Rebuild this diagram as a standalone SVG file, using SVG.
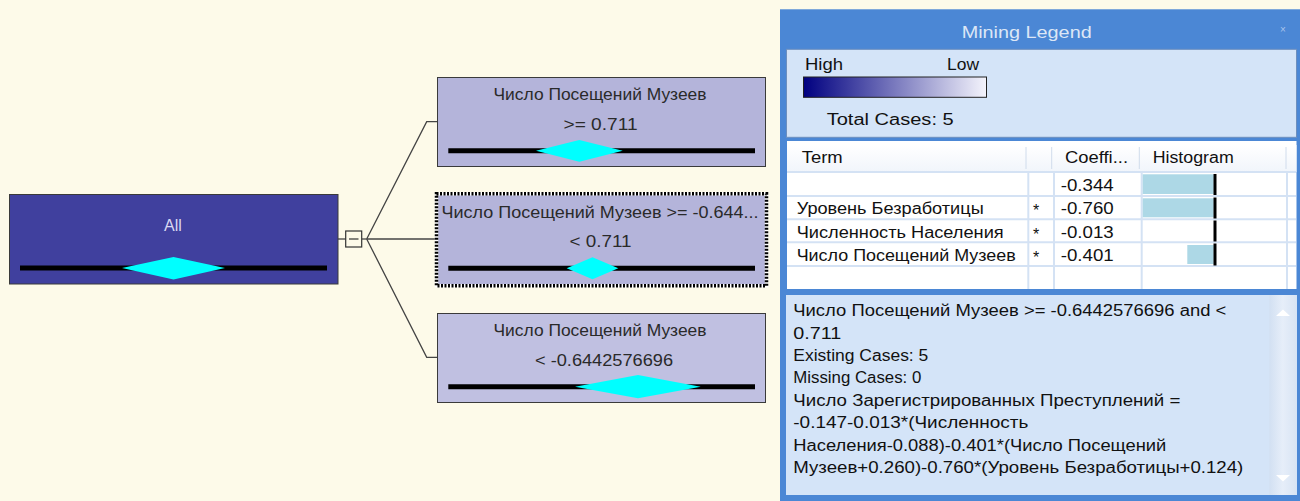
<svg xmlns="http://www.w3.org/2000/svg" width="1300" height="501" viewBox="0 0 1300 501">
<defs>
  <linearGradient id="hl" x1="0" x2="1" y1="0" y2="0">
    <stop offset="0" stop-color="#000080"/>
    <stop offset="1" stop-color="#F4F4FC"/>
  </linearGradient>
  <linearGradient id="sb" x1="0" x2="1" y1="0" y2="0">
    <stop offset="0" stop-color="#D2E0F2"/>
    <stop offset="0.5" stop-color="#E6EEF9"/>
    <stop offset="1" stop-color="#D8E4F4"/>
  </linearGradient>
  <linearGradient id="hdr" x1="0" x2="0" y1="0" y2="1">
    <stop offset="0" stop-color="#FFFFFF"/>
    <stop offset="1" stop-color="#F1F5FB"/>
  </linearGradient>
</defs>
<style>
  .node { stroke: #3A3A3A; stroke-width: 1; }
  .ntext { font-family: "Liberation Sans", Arial, sans-serif; font-size: 16px; fill: #2A2A2A; text-anchor: middle; }
  .bar { stroke: #000; stroke-width: 5; }
  .dia { fill: #00FFFF; }
  .conn { stroke: #444; stroke-width: 1.3; fill: none; }
  .lg { font-family: "Liberation Sans", Arial, sans-serif; font-size: 16px; fill: #111; }
  .tb { font-family: "Liberation Sans", Arial, sans-serif; font-size: 16px; fill: #111; }
  .grid { stroke: #D4E2F4; stroke-width: 2; }
  .hist { fill: #ADD8E6; }
  .zero { stroke: #000; stroke-width: 3; }
</style>
<rect x="0" y="0" width="1300" height="501" fill="#FDFAE9"/>

<g id="connectors">
  <line class="conn" x1="338" y1="239" x2="346" y2="239"/>
  <rect x="345.7" y="231" width="16" height="16" fill="#FDFAE9" stroke="#333" stroke-width="1.2"/>
  <line x1="349" y1="239" x2="358.5" y2="239" stroke="#333" stroke-width="1.2"/>
  <line class="conn" x1="361.7" y1="239" x2="366.7" y2="239"/>
  <polyline class="conn" points="366.7,239 426.7,121.7 437.3,121.7"/>
  <line class="conn" x1="366.7" y1="239" x2="436" y2="239"/>
  <polyline class="conn" points="366.7,239 426.7,357.3 437.3,357.3"/>
</g>

<g id="node-all">
  <rect class="node" x="9.5" y="194.5" width="328.5" height="89.5" fill="#40409E"/>
  <text x="173" y="231" font-family="Liberation Sans, Arial, sans-serif" font-size="16" fill="#D8D8F2" text-anchor="middle">All</text>
  <line class="bar" x1="20" y1="268" x2="327" y2="268"/>
  <polygon class="dia" points="122,268 173.5,257 225,268 173.5,279.5"/>
</g>

<g id="node-high">
  <rect class="node" x="437.5" y="77.5" width="328" height="89" fill="#B4B4DA"/>
  <text class="ntext" x="600" y="99.5" textLength="213" lengthAdjust="spacingAndGlyphs">Число Посещений Музеев</text>
  <text class="ntext" x="600.5" y="129.5" textLength="74" lengthAdjust="spacingAndGlyphs">&gt;= 0.711</text>
  <line class="bar" x1="448.3" y1="150.8" x2="755" y2="150.8"/>
  <polygon class="dia" points="536,150.8 579.3,140 622.7,150.8 579.3,161.8"/>
</g>

<g id="node-mid">
  <rect x="436.5" y="193.8" width="330" height="92" fill="#B4B4DA" stroke="#FFFFFF" stroke-width="3.5"/>
  <rect x="436.5" y="193.8" width="330" height="92" fill="none" stroke="#000" stroke-width="3.5" stroke-dasharray="2 1.5"/>
  <text class="ntext" x="600" y="217.5" textLength="317" lengthAdjust="spacingAndGlyphs">Число Посещений Музеев &gt;= -0.644...</text>
  <text class="ntext" x="600.5" y="247" textLength="62" lengthAdjust="spacingAndGlyphs">&lt; 0.711</text>
  <line class="bar" x1="448.3" y1="268.3" x2="755" y2="268.3"/>
  <polygon class="dia" points="566.7,268.3 592.5,257.3 618.3,268.3 592.5,279.3"/>
</g>

<g id="node-low">
  <rect class="node" x="437.5" y="313.5" width="328" height="89" fill="#C0C0E1"/>
  <text class="ntext" x="600" y="335.5" textLength="213" lengthAdjust="spacingAndGlyphs">Число Посещений Музеев</text>
  <text class="ntext" x="604" y="365.5" textLength="138" lengthAdjust="spacingAndGlyphs">&lt; -0.6442576696</text>
  <line class="bar" x1="448.3" y1="386.7" x2="755" y2="386.7"/>
  <polygon class="dia" points="575,386.7 638,375 700.7,386.7 638,398.3"/>
</g>

<g id="legend">
  <rect x="780" y="9.3" width="520" height="492" fill="#4B87D5"/>
  <text x="1026.7" y="38" font-family="Liberation Sans, Arial, sans-serif" font-size="17" fill="#DCE6F6" text-anchor="middle" textLength="130" lengthAdjust="spacingAndGlyphs">Mining Legend</text>
  <text x="1283" y="33" font-family="Liberation Sans, Arial, sans-serif" font-size="10" fill="#A9C4EC" text-anchor="middle">×</text>

  <rect x="786.5" y="49.3" width="510" height="88" fill="#D4E4F8" stroke="#6D8FBE" stroke-width="1"/>
  <text class="lg" x="805" y="70" textLength="38" lengthAdjust="spacingAndGlyphs">High</text>
  <text class="lg" x="947" y="70" textLength="32" lengthAdjust="spacingAndGlyphs">Low</text>
  <rect x="803.5" y="77" width="183" height="20.3" fill="url(#hl)" stroke="#222" stroke-width="1"/>
  <text class="lg" x="826.7" y="125" textLength="127" lengthAdjust="spacingAndGlyphs">Total Cases:  5</text>

  <rect x="787" y="141" width="509.5" height="148" fill="#FFFFFF"/>
  <rect x="787" y="145" width="509.5" height="27" fill="url(#hdr)"/>
  <line x1="1026" y1="147" x2="1026" y2="169" stroke="#D0DCEC" stroke-width="1"/>
  <line x1="1051.7" y1="147" x2="1051.7" y2="169" stroke="#D0DCEC" stroke-width="1"/>
  <line x1="1139.3" y1="147" x2="1139.3" y2="169" stroke="#D0DCEC" stroke-width="1"/>
  <line x1="1286" y1="147" x2="1286" y2="169" stroke="#D0DCEC" stroke-width="1"/>
  <text class="tb" x="801.7" y="163" textLength="41" lengthAdjust="spacingAndGlyphs">Term</text>
  <text class="tb" x="1065" y="163" textLength="63" lengthAdjust="spacingAndGlyphs">Coeffi...</text>
  <text class="tb" x="1152.7" y="163" textLength="81" lengthAdjust="spacingAndGlyphs">Histogram</text>

  <line class="grid" x1="787" y1="172" x2="1296" y2="172"/>
  <line class="grid" x1="787" y1="196" x2="1296" y2="196"/>
  <line class="grid" x1="787" y1="219.3" x2="1296" y2="219.3"/>
  <line class="grid" x1="787" y1="242.3" x2="1296" y2="242.3"/>
  <line class="grid" x1="787" y1="266" x2="1296" y2="266"/>
  <line class="grid" x1="1028.3" y1="172" x2="1028.3" y2="289"/>
  <line class="grid" x1="1054" y1="172" x2="1054" y2="289"/>
  <line class="grid" x1="1141.7" y1="172" x2="1141.7" y2="289"/>
  <line class="grid" x1="1287" y1="172" x2="1287" y2="289"/>

  <text class="tb" x="1060.7" y="190.5" textLength="53" lengthAdjust="spacingAndGlyphs">-0.344</text>
  <text class="tb" x="796.7" y="214" textLength="187" lengthAdjust="spacingAndGlyphs">Уровень Безработицы</text>
  <text class="tb" x="1033" y="216" font-size="18">*</text>
  <text class="tb" x="1060.7" y="214" textLength="53" lengthAdjust="spacingAndGlyphs">-0.760</text>
  <text class="tb" x="796.7" y="237.5" textLength="207" lengthAdjust="spacingAndGlyphs">Численность Населения</text>
  <text class="tb" x="1033" y="239.5" font-size="18">*</text>
  <text class="tb" x="1060.7" y="237.5" textLength="53" lengthAdjust="spacingAndGlyphs">-0.013</text>
  <text class="tb" x="796.7" y="261" textLength="219" lengthAdjust="spacingAndGlyphs">Число Посещений Музеев</text>
  <text class="tb" x="1033" y="263" font-size="18">*</text>
  <text class="tb" x="1060.7" y="261" textLength="53" lengthAdjust="spacingAndGlyphs">-0.401</text>

  <rect class="hist" x="1142.7" y="174.3" width="71" height="19.7"/>
  <rect class="hist" x="1142.7" y="198.3" width="71" height="19"/>
  <rect class="hist" x="1187.3" y="245" width="26.4" height="19"/>
  <line class="zero" x1="1215" y1="174" x2="1215" y2="195"/>
  <line class="zero" x1="1215" y1="197.5" x2="1215" y2="218.5"/>
  <line class="zero" x1="1215" y1="220.5" x2="1215" y2="241.5"/>
  <line class="zero" x1="1215" y1="243.5" x2="1215" y2="265.5"/>

  <rect x="786" y="295" width="511" height="200" fill="#D4E4F8"/>
  <rect x="1269.3" y="295" width="27" height="200" fill="url(#sb)"/>
  <polygon points="1276,316 1283,309.5 1290,316" fill="#FFFFFF"/>
  <polygon points="1276,475 1283,481.5 1290,475" fill="#FFFFFF"/>
  <text class="tb" x="793.3" y="316" textLength="433" lengthAdjust="spacingAndGlyphs">Число Посещений Музеев &gt;= -0.6442576696 and &lt;</text>
  <text class="tb" x="793.3" y="338.5" textLength="48" lengthAdjust="spacingAndGlyphs">0.711</text>
  <text class="tb" x="793.3" y="361" textLength="135" lengthAdjust="spacingAndGlyphs">Existing Cases: 5</text>
  <text class="tb" x="793.3" y="383.3" textLength="128" lengthAdjust="spacingAndGlyphs">Missing Cases: 0</text>
  <text class="tb" x="793.3" y="405.7" textLength="387" lengthAdjust="spacingAndGlyphs">Число Зарегистрированных Преступлений =</text>
  <text class="tb" x="793.3" y="428" textLength="235" lengthAdjust="spacingAndGlyphs">-0.147-0.013*(Численность</text>
  <text class="tb" x="793.3" y="450.5" textLength="373" lengthAdjust="spacingAndGlyphs">Населения-0.088)-0.401*(Число Посещений</text>
  <text class="tb" x="793.3" y="472.5" textLength="450" lengthAdjust="spacingAndGlyphs">Музеев+0.260)-0.760*(Уровень Безработицы+0.124)</text>
</g>
</svg>
